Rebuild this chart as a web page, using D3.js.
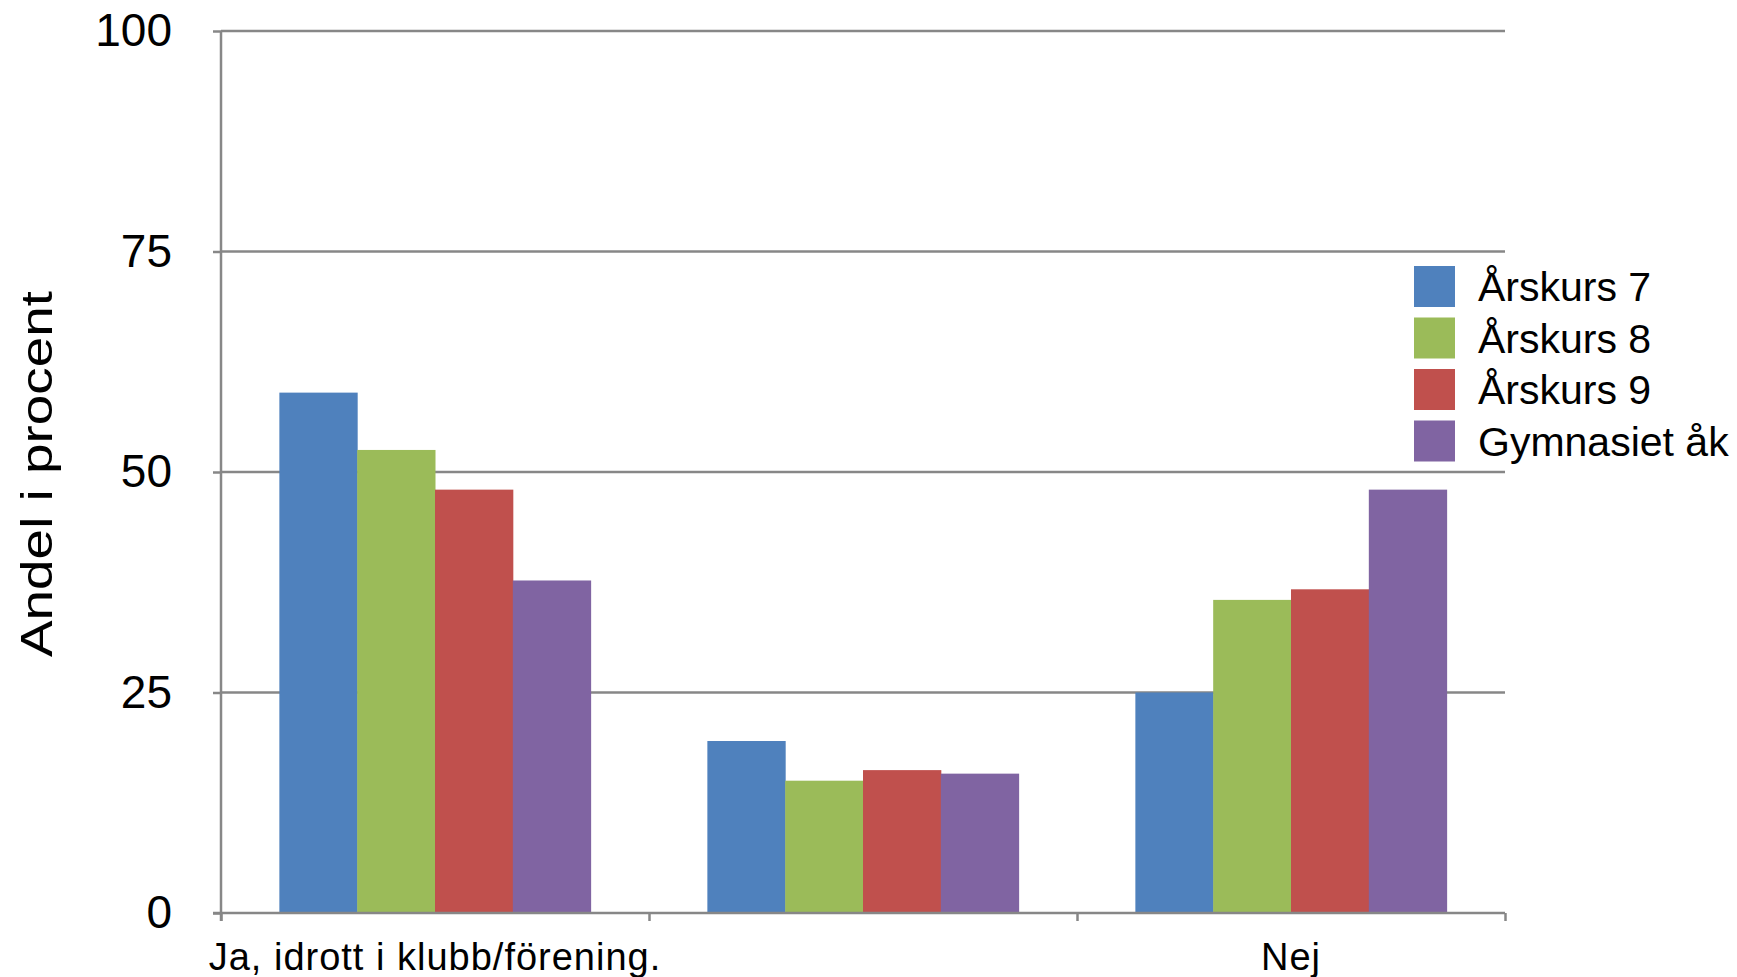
<!DOCTYPE html>
<html>
<head>
<meta charset="utf-8">
<script src="https://cdn.jsdelivr.net/npm/d3@7"></script>
<style>
  html, body { margin: 0; padding: 0; background: #fff; overflow: hidden; }
  svg { display: block; font-family: "Liberation Sans", Arial, sans-serif; }
</style>
</head>
<body>
<svg id="chart" width="1737" height="977"></svg>
<script>
const categories = ["Ja, idrott i klubb/förening.", "", "Nej"];
const seriesNames = ["Årskurs 7", "Årskurs 8", "Årskurs 9", "Gymnasiet åk"];
const seriesColors = ["#4F81BD", "#9BBB59", "#C0504D", "#8064A2"];
const ak7  = [59.0, 19.5, 25.0];
const ak8  = [52.5, 15.0, 35.5];
const ak9  = [48.0, 16.2, 36.7];
const gymn = [37.7, 15.8, 48.0];
const yTicks = [0, 25, 50, 75, 100];
const yTitle = "Andel i procent";

(function () {
const seriesValues = [ak7, ak8, ak9, gymn];

const svg = d3.select("#chart");
const pLeft = 221, pRight = 1505, pTop = 31, pBottom = 913;
const gridColor = "#878787";

const x = d3.scaleBand().domain(d3.range(categories.length)).range([pLeft, pRight]).padding(0);
const bw = x.bandwidth();
const barW = bw / 5.5;
const xs = d3.scaleBand().domain(d3.range(seriesNames.length))
  .range([0.75 * barW, 0.75 * barW + 4 * barW]).padding(0);
const y = d3.scaleLinear().domain([0, 100]).range([pBottom, pTop]);

// gridlines
svg.append("g").selectAll("line").data(yTicks.filter(t => t > 0)).join("line")
  .attr("x1", pLeft).attr("x2", pRight)
  .attr("y1", d => y(d)).attr("y2", d => y(d))
  .attr("stroke", gridColor).attr("stroke-width", 2.5);

// bars
const groups = svg.append("g").selectAll("g").data(categories).join("g")
  .attr("transform", (d, i) => `translate(${x(i)},0)`);
groups.selectAll("rect").data((d, i) => seriesValues.map((s, k) => ({ k, v: s[i] }))).join("rect")
  .attr("x", d => xs(d.k))
  .attr("width", xs.bandwidth() + 0.5)
  .attr("y", d => y(d.v))
  .attr("height", d => y(0) - y(d.v))
  .attr("fill", d => seriesColors[d.k]);

// y axis
const yAxis = svg.append("g").attr("transform", `translate(${pLeft},0)`)
  .call(d3.axisLeft(y).tickValues(yTicks).tickSize(8).tickPadding(41).tickFormat(d3.format("d")));
yAxis.select(".domain").attr("stroke", gridColor).attr("stroke-width", 2.5)
  .attr("d", `M0,${pTop}V${pBottom + 8}`);
yAxis.selectAll(".tick line").attr("stroke", gridColor).attr("stroke-width", 2.5);
yAxis.selectAll(".tick text").attr("font-size", 46).attr("fill", "#000")
  .attr("font-family", "Liberation Sans, Arial, sans-serif");

// x axis
const xAxisScale = d3.scaleLinear().domain([0, categories.length]).range([pLeft, pRight]);
const xAxis = svg.append("g").attr("transform", `translate(0,${pBottom})`)
  .call(d3.axisBottom(xAxisScale).tickValues(d3.range(categories.length + 1)).tickSize(8).tickFormat(""));
xAxis.select(".domain").attr("stroke", gridColor).attr("stroke-width", 2.5)
  .attr("d", `M${pLeft - 8},0H${pRight}`);
xAxis.selectAll(".tick line").attr("stroke", gridColor).attr("stroke-width", 2.5);

// category labels
svg.append("g").selectAll("text").data(categories).join("text")
  .attr("x", (d, i) => x(i) + bw / 2)
  .attr("y", 970)
  .attr("text-anchor", "middle")
  .attr("font-size", 38)
  .attr("letter-spacing", 1)
  .attr("fill", "#000")
  .text(d => d);

// y title
svg.append("text")
  .attr("transform", `translate(52,${(pTop + pBottom) / 2 + 2}) rotate(-90)`)
  .attr("text-anchor", "middle")
  .attr("font-size", 45)
  .attr("textLength", 366)
  .attr("lengthAdjust", "spacingAndGlyphs")
  .attr("fill", "#000")
  .text(yTitle);

// legend
const legend = svg.append("g").attr("transform", "translate(1414,266)");
const items = legend.selectAll("g").data(seriesNames).join("g")
  .attr("transform", (d, i) => `translate(0,${i * 51.5})`);
items.append("rect").attr("width", 41).attr("height", 41).attr("fill", (d, i) => seriesColors[i]);
items.append("text").attr("x", 64).attr("y", 35)
  .attr("font-size", 41).attr("fill", "#000").text(d => d);
})();
</script>
</body>
</html>
